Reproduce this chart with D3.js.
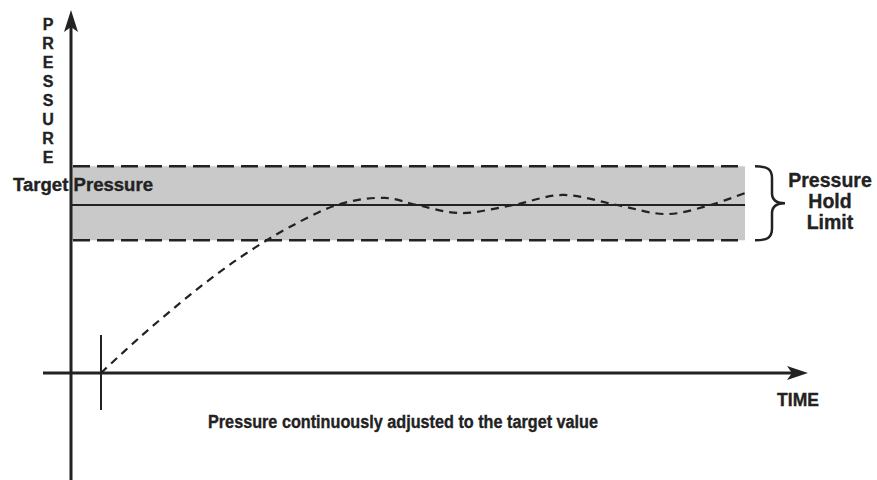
<!DOCTYPE html>
<html><head><meta charset="utf-8">
<script src="https://cdn.jsdelivr.net/npm/d3@7"></script>
<style>body{margin:0;background:#fff}svg{display:block}text{font-family:"Liberation Sans",Arial,sans-serif;font-weight:bold;fill:#222;stroke:#222;stroke-width:0.35px}</style>
</head><body>
<script>
// Data
const timeValues = [0, 6.06, 12.3, 18.0, 23.1, 29.3, 37.1, 44.1, 49.1, 55.7, 64.0, 71.7, 80.1, 87.9, 94.6, 100];
const pressureValues = [0, 21.4, 41.7, 58.9, 72.6, 86.9, 100.6, 104.2, 100, 95.2, 100, 106, 100, 94.6, 100, 107.1];
const targetPressure = [100];
const holdLimits = [79, 123];
const yTitleLetters = ["P","R","E","S","S","U","R","E"];
const labels = ["Target Pressure", "Pressure", "Hold", "Limit", "TIME", "Pressure continuously adjusted to the target value"];

const W = 877, H = 480;
const svg = d3.select("body").append("svg").attr("width", W).attr("height", H);
const x = d3.scaleLinear().domain([0, 100]).range([101, 745]);
const y = d3.scaleLinear().domain([0, 100]).range([373, 205]);
const ink = "#222";
const axisX0 = 71;

// band
svg.append("rect").attr("x", axisX0).attr("y", y(holdLimits[1]))
  .attr("width", x(100) - axisX0).attr("height", y(holdLimits[0]) - y(holdLimits[1]))
  .attr("fill", "#c9c9c9");
holdLimits.forEach(v => {
  svg.append("line").attr("x1", axisX0 + 2).attr("x2", x(100)).attr("y1", y(v)).attr("y2", y(v))
    .attr("stroke", ink).attr("stroke-width", 2.5).attr("stroke-dasharray", "17,7");
});
svg.append("line").attr("x1", axisX0).attr("x2", x(100)).attr("y1", y(targetPressure[0])).attr("y2", y(targetPressure[0]))
  .attr("stroke", ink).attr("stroke-width", 2);

// curve
const line = d3.line().x((d, i) => x(timeValues[i])).y(d => y(d)).curve(d3.curveCatmullRom.alpha(0.5));
svg.append("path").datum(pressureValues).attr("d", line).attr("fill", "none")
  .attr("stroke", ink).attr("stroke-width", 2.2).attr("stroke-dasharray", "8,6");

// axes
svg.append("line").attr("x1", axisX0).attr("x2", axisX0).attr("y1", 22).attr("y2", H)
  .attr("stroke", ink).attr("stroke-width", 3);
svg.append("path").attr("d", `M${axisX0},10 L${axisX0+7},32 L${axisX0},27 L${axisX0-7},32 Z`).attr("fill", ink);
svg.append("line").attr("x1", 43).attr("x2", 798).attr("y1", y(0)).attr("y2", y(0))
  .attr("stroke", ink).attr("stroke-width", 3);
svg.append("path").attr("d", `M808,${y(0)} L787,${y(0)-7} L792,${y(0)} L787,${y(0)+7} Z`).attr("fill", ink);
// start tick
svg.append("line").attr("x1", x(0)).attr("x2", x(0)).attr("y1", 335).attr("y2", 410)
  .attr("stroke", ink).attr("stroke-width", 2);

// y title letters
svg.selectAll("text.yl").data(yTitleLetters).join("text").attr("class", "yl")
  .attr("x", 48).attr("y", (d, i) => 30 + i * 19).attr("text-anchor", "middle")
  .attr("font-size", 16).text(d => d);

svg.append("text").attr("x", 13).attr("y", 191).attr("font-size", 17.5)
  .attr("textLength", 140).attr("lengthAdjust", "spacingAndGlyphs").text(labels[0]);

[[labels[1], 187], [labels[2], 208], [labels[3], 229]].forEach(([t, by]) => {
  svg.append("text").attr("x", 830).attr("y", by).attr("text-anchor", "middle").attr("font-size", 19.5).text(t);
});

// brace
const bt = y(holdLimits[1]), bb = y(holdLimits[0]), bm = (bt + bb) / 2;
svg.append("path").attr("d",
  `M755,${bt} C768,${bt} 772,${bt+3} 772,${bt+12} L772,${bm-10} C772,${bm-3} 776,${bm} 785,${bm}` +
  ` C776,${bm} 772,${bm+3} 772,${bm+10} L772,${bb-12} C772,${bb-3} 768,${bb} 755,${bb}`)
  .attr("fill", "none").attr("stroke", ink).attr("stroke-width", 2.5);

svg.append("text").attr("x", 798).attr("y", 406).attr("text-anchor", "middle").attr("font-size", 17.5).text(labels[4]);
svg.append("text").attr("x", 208).attr("y", 428).attr("font-size", 18)
  .attr("textLength", 390).attr("lengthAdjust", "spacingAndGlyphs").text(labels[5]);
</script>
</body></html>
